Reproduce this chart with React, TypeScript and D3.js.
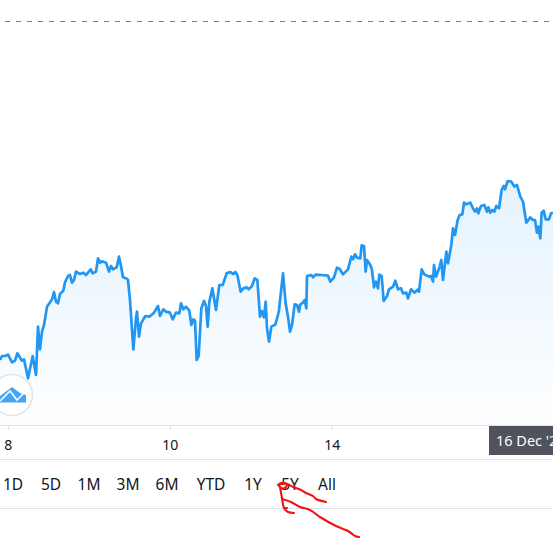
import React, { useMemo } from "react";
import * as d3 from "d3";

const W = 553;
const H = 548;

// Time in fractions of a trading session (243 units per session), price in chart units.
const times = [
  0,6,15,24,36,45,52,66,72,84,98,108,114,120,126,132,141,156,162,168,174,180,190,195,204,210,216,222,228,240,250,258,272,278,288,294,300,306,318,327,333,339,350,357,363,369,378,384,390,400,408,411,417,423,436,448,462,474,480,490,498,510,518,528,538,543,550,558,568,574,580,585,590,596,604,612,618,623,628,637,648,658,668,680,690,700,706,712,722,730,740,746,756,764,772,780,786,792,797,801,807,814,826,834,
  837,849,857,864,870,876,884,891,897,901,909,914,919,921,934,939,947,964,984,991,1002,1011,1019,1029,1044,1054,1059,1065,1071,1081,1085,1092,1097,1101,1111,1116,1122,1128,1134,1138,1145,1151,1161,1167,1179,1186,1194,1203,1209,1219,1224,1233,1244,1254,1257,1265,1273,1287,1293,1299,1302,1308,1319,1324,1329,1339,1344,1354,1359,1365,1373,1379,1387,1392,1399,1405,1411,1419,1425,1431,1435,1443,1453,1461,1465,1471,1477,1483,1489,1497,1505,1511,1515,1523,1534,1543,1551,1561,1569,1579,1591,1599,1605,1611,1615,1621,1625,1631,1637,1647,1653,1659,
];
const prices = [
  198,210,210,214,191,196,218,196,200,143,210,153,298,230,283,303,358,380,402,373,368,396,406,431,450,453,430,438,463,456,460,453,470,458,463,503,490,494,490,463,480,470,476,508,480,446,443,438,378,230,323,343,268,308,330,328,340,360,330,350,343,340,320,340,338,368,350,358,346,303,320,316,198,210,353,375,360,298,373,413,348,423,423,458,462,456,462,453,403,413,416,410,420,443,438,328,345,326,373,293,253,298,304,333,
  348,458,368,328,283,303,365,363,343,365,370,378,353,450,453,446,454,453,451,433,446,475,471,455,470,508,500,515,505,503,542,540,463,498,483,468,416,433,413,454,450,375,390,410,418,436,410,413,398,400,383,410,400,410,403,470,455,448,450,433,483,448,478,498,438,523,488,543,593,573,618,633,635,670,665,668,670,653,643,653,638,660,663,643,656,640,648,643,660,653,708,720,710,735,733,718,723,688,673,610,626,618,618,580,598,563,640,646,620,620,638,640,
];
const priceLine = 1215;
const axisTickTimes = [25, 511, 997];
const axisTickLabels = ["8", "10", "14"];
const rangeLabels = ["1D", "5D", "1M", "3M", "6M", "YTD", "1Y", "5Y", "All"];
const rangeCenters = [13, 51, 89, 128, 167, 211, 253, 290, 327];
const tooltipLabel = "16 Dec '2";

// Hand-drawn red marker strokes over the "5Y" button.
const scribbleA: [number, number][] = [[278,485],[281,483],[287,484],[285,488],[281,488],[279,485],[287,484],[293,487],[301,490],[306,493],[313,496],[316,499],[326,502]];
const scribbleB: [number, number][] = [[280,487],[282,498],[284,508],[288,512],[294,513]];
const scribbleB2: [number, number][] = [[284,508],[287,508]];
const scribbleC: [number, number][] = [[282,499],[291,502],[300,507],[310,510],[320,517],[336,526],[348,531],[355,536],[359,537]];

export default function App() {
  const x = d3.scaleLinear().domain([0, 1659]).range([0, W]);
  const y = d3.scaleLinear().domain([0, 1278]).range([426, 0]);
  const points = useMemo(() => times.map((t, i) => [t, prices[i]] as [number, number]), []);
  const line = d3.line<[number, number]>().x((d) => x(d[0])).y((d) => y(d[1])).curve(d3.curveLinear);
  const area = d3.area<[number, number]>().x((d) => x(d[0])).y0(426).y1((d) => y(d[1]));
  const scribble = d3.line<[number, number]>().curve(d3.curveCatmullRom);
  const font = "'Noto Sans', 'Open Sans', sans-serif";
  const border = "#e0e3eb";

  return (
    <svg
      width={W}
      height={H}
      viewBox={`0 0 ${W} ${H}`}
      style={{ position: "absolute", left: 0, top: 0, background: "#fff", fontFamily: font }}
    >
      <defs>
        <linearGradient id="fill" gradientUnits="userSpaceOnUse" x1="0" y1="182" x2="0" y2="426">
          <stop offset="0" stopColor="#2196f3" stopOpacity={0.12} />
          <stop offset="1" stopColor="#2196f3" stopOpacity={0.005} />
        </linearGradient>
      </defs>
      <line x1={5} x2={W} y1={y(priceLine) + 0.5} y2={y(priceLine) + 0.5} stroke="#787b86" strokeDasharray="5 6" />
      <path d={area(points) ?? ""} fill="url(#fill)" />
      <path d={line(points) ?? ""} fill="none" stroke="#2196f3" strokeWidth={2.7} strokeLinejoin="round" />

      {/* watermark badge */}
      <circle cx={12} cy={395} r={20.5} fill="#fff" stroke={border} strokeWidth={1.5} />
      <path d="M0 396 L12 387 L20 393 L26 395 L26 402.5 L0 402.5 Z" fill="#42a5f5" />
      <path d="M0 401 L10 391 L17 400 L24 393" fill="none" stroke="#fff" strokeWidth={1.5} />

      <line x1={0} x2={W} y1={425.5} y2={425.5} stroke={border} strokeWidth={1} />
      <line x1={0} x2={W} y1={459.5} y2={459.5} stroke={border} strokeWidth={1} />
      <line x1={0} x2={W} y1={508.5} y2={508.5} stroke={border} strokeWidth={1} />

      {axisTickTimes.map((t, i) => (
        <g key={t}>
          <line x1={x(t)} x2={x(t)} y1={426} y2={430} stroke={border} />
          <text x={x(t)} y={450} textAnchor="middle" fontSize={14} fill="#131722">{axisTickLabels[i]}</text>
        </g>
      ))}

      <rect x={489} y={426} width={64} height={29} fill="#50535e" />
      <text x={496} y={446} fontSize={14.5} fill="#fff">{tooltipLabel}</text>

      {rangeLabels.map((l, i) => (
        <text key={l} x={rangeCenters[i]} y={490} textAnchor="middle" fontSize={15.5} fill="#131722">{l}</text>
      ))}

      {[scribbleA, scribbleB, scribbleB2, scribbleC].map((s, i) => (
        <path key={i} d={scribble(s) ?? ""} fill="none" stroke="#f01414" strokeWidth={2.1} strokeLinecap="round" strokeLinejoin="round" />
      ))}
    </svg>
  );
}
